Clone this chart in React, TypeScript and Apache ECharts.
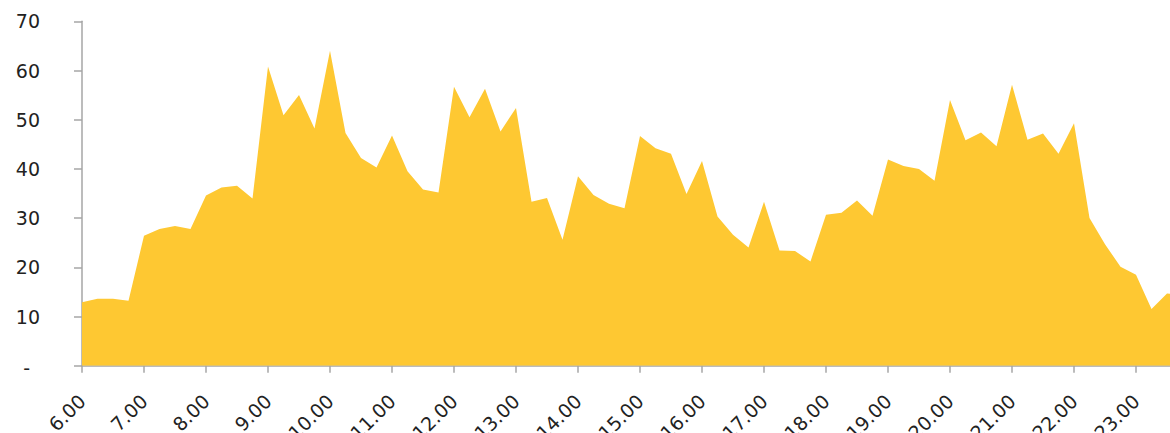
import React, { useEffect, useRef } from "react";
import * as echarts from "echarts";

const times: string[] = [];
for (let h = 6; h <= 23; h++) {
  for (const m of ["00", "15", "30", "45"]) times.push(`${h}.${m}`);
}

const values: number[] = [
  12.9, 13.6, 13.6, 13.2,
  26.4, 27.8, 28.4, 27.8,
  34.6, 36.2, 36.6, 34.0,
  60.8, 50.9, 55.0, 48.2,
  64.0, 47.3, 42.2, 40.3,
  46.8, 39.5, 35.8, 35.2,
  56.7, 50.5, 56.3, 47.6,
  52.4, 33.3, 34.1, 25.6,
  38.5, 34.7, 32.9, 32.0,
  46.7, 44.2, 43.1, 34.9,
  41.6, 30.3, 26.6, 24.0,
  33.3, 23.4, 23.3, 21.2,
  30.7, 31.1, 33.6, 30.5,
  41.9, 40.6, 40.0, 37.6,
  54.0, 45.8, 47.4, 44.6,
  57.1, 45.9, 47.2, 43.1,
  49.3, 30.0, 24.7, 20.1,
  18.5, 11.5, 14.7, 14.4,
];

const yTicks = [0, 10, 20, 30, 40, 50, 60, 70];

export default function App() {
  const ref = useRef<HTMLDivElement>(null);
  useEffect(() => {
    if (!ref.current) return;
    const chart = echarts.init(ref.current, undefined, { renderer: "svg" });
    const font = "DejaVu Sans";
    const fs = 19;
    chart.setOption({
      animation: false,
      grid: {
        left: 82,
        width: 1100.5,
        top: 21.3,
        height: 344.4,
        containLabel: false,
        outerBoundsMode: "none",
      },
      xAxis: {
        type: "category",
        data: times,
        boundaryGap: false,
        axisLine: { show: true, lineStyle: { color: "#A6A6A6", width: 1.5 } },
        axisTick: {
          show: true,
          length: 7,
          interval: (i: number) => i % 4 === 0,
          lineStyle: { color: "#A6A6A6", width: 1.5 },
        },
        axisLabel: {
          interval: (i: number) => i % 4 === 0,
          rotate: 45,
          margin: 32,
          fontFamily: font,
          fontSize: fs,
          color: "#222",
          formatter: (v: string) => v,
        },
        splitLine: { show: false },
      },
      yAxis: {
        type: "value",
        min: yTicks[0],
        max: yTicks[yTicks.length - 1],
        interval: 10,
        axisLine: { show: true, lineStyle: { color: "#A6A6A6", width: 1.5 } },
        axisTick: { show: true, length: 8, lineStyle: { color: "#A6A6A6", width: 1.5 } },
        splitLine: { show: false },
        axisLabel: {
          margin: 42,
          fontFamily: font,
          fontSize: fs,
          color: "#222",
          formatter: (v: number) => (v === 0 ? "{d|-}" : String(v)),
          rich: { d: { fontFamily: font, fontSize: fs, color: "#222", padding: [4, 10, 0, 0] } },
        },
      },
      series: [
        {
          type: "line",
          data: values,
          symbol: "none",
          lineStyle: { width: 0 },
          areaStyle: { color: "#FEC832", opacity: 1 },
          itemStyle: { color: "#FEC832" },
        },
      ],
    });
    return () => chart.dispose();
  }, []);
  return (
    <div
      ref={ref}
      style={{ position: "fixed", left: 0, top: 0, width: 1170, height: 433, background: "#fff" }}
    />
  );
}
